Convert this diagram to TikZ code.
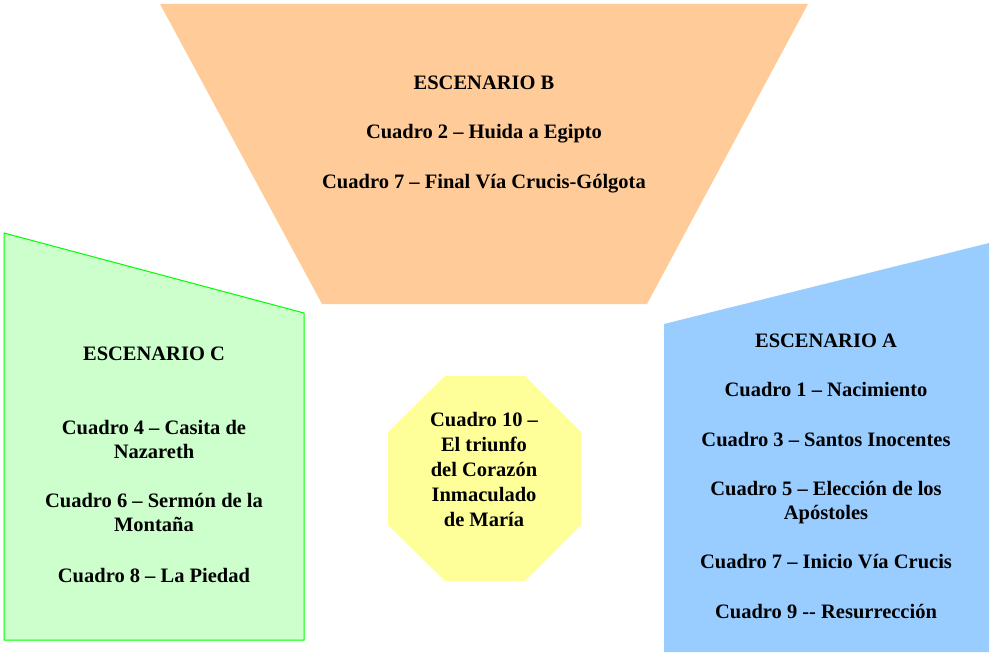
\documentclass[tikz,border=0pt]{standalone}
\usepackage{fontspec}
\setmainfont{Liberation Serif}
\definecolor{escB}{HTML}{FFCC99}
\definecolor{escC}{HTML}{CCFFCC}
\definecolor{escCline}{HTML}{00FF00}
\definecolor{escA}{HTML}{99CCFF}
\definecolor{cuadroX}{HTML}{FFFF99}
\tikzset{
  textblock/.style={align=center, inner sep=0pt, font=\bfseries\fontsize{20.5}{24}\selectfont},
}
\begin{document}
\begin{tikzpicture}[x=1pt, y=-1pt]
			\useasboundingbox (0, 0) rectangle (994, 658);

			% escenario B
			\fill [escB] (160, 4) -- (808, 4) -- (647, 304) -- (322, 304) -- cycle;
			% escenario C
			\filldraw [fill=escC, draw=escCline, line width=1pt]
				(4, 233) -- (304, 313) -- (304, 640) -- (4, 640) -- cycle;
			% escenario A
			\fill [escA] (664, 324) -- (989, 243) -- (989, 652) -- (664, 652) -- cycle;
			% cuadro 10
			\fill [cuadroX] (445, 376) -- (525, 376) -- (581, 432) -- (581, 525)
				-- (525, 581) -- (445, 581) -- (388, 525) -- (388, 432) -- cycle;

			\node (escenarioB) at (484, 134) [textblock] {ESCENARIO B\\[25.5pt]
				Cuadro 2 – Huida a Egipto\\[25.5pt]
				Cuadro 7 – Final Vía Crucis-Gólgota};
			\node (escenarioC) at (154, 465) [textblock] {ESCENARIO C\\[50pt]
				Cuadro 4 – Casita de\\ Nazareth\\[25pt]
				Cuadro 6 – Sermón de la\\ Montaña\\[27pt]
				Cuadro 8 – La Piedad};
			\node (cuadro10) at (484, 469) [textblock, font=\bfseries\fontsize{20.5}{25}\selectfont]
				{Cuadro 10 –\\ El triunfo\\ del Corazón\\ Inmaculado\\ de María};
			\node (escenarioA) at (826, 476) [textblock] {ESCENARIO A\\[25pt]
				Cuadro 1 – Nacimiento\\[26pt]
				Cuadro 3 – Santos Inocentes\\[25pt]
				Cuadro 5 – Elección de los\\ Apóstoles\\[25pt]
				Cuadro 7 – Inicio Vía Crucis\\[26pt]
				Cuadro 9 -{}- Resurrección};
		\end{tikzpicture}
\end{document}
